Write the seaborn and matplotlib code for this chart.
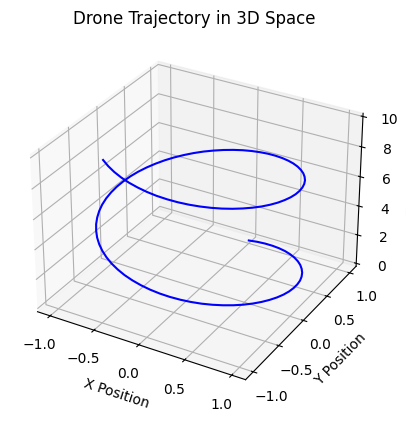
import matplotlib
matplotlib.use("Agg")
import matplotlib.pyplot as plt
import seaborn as sns

# values
x_pos = [0, .0998, .199, .296, .389, .479, .565, .644, .717, .783, .841, .891, .932, .964,
         .985, .997, .9996, .992, .974, .946, .909, .863, .808, .746, .675, .598, .516,
         .427, .335, .239, .141, .042, -.058, -.158, -.256, -.351, -.443, -.530, -.612,
         -.688, -.757, -.818, -.872, -.916, -.952, -.978, -.994, -.9999, -.996, -.982,
         -.959, -.926, -.883, -.832, -.773, -.706, -.631, -.551, -.465, -.374, -.279,
         -.182, -.083, .017, .117, .215, .312, .405, .494, .578, .657, .729, .794, .850,
         .899, .938, .968, .988, .999, .999, .989, .970, .941, .902, .855, .798, .734,
         .663, .585, .501, .412, .319, .223, .122, .025, -.075, -.175, -.273, -.366,
         -.458, -.544]
y_pos = [1, .995, .980, .955, .921, .878, .825, .765, .697, .622, .540, .454, .362, .267,
         .170, .071, -.029, -.129, -.227, -.323, -.416, -.505, -.589, -.666, -.737, -.801,
         -.857, -.904, -.942, -.971, -.990, -.999, -.998, -.987, -.967, -.936, -.897,
         -.848, -.791, -.726, -.654, -.575, -.490, -.401, -.307, -.211, -.112, -.012,
         .087, .187, .284, .378, .469, .554, .635, .709, .776, .835, .886, .927, .960,
         .983, .997, 1.0, .993, .977, .950, .914, .869, .816, .754, .684, .608, .526,
         .439, .347, .251, .153, .054, -.047, -.146, -.245, -.340, -.433, -.519, -.602,
         -.679, -.749, -.811, -.865, -.911, -.948, -.975, -.993, -1.0, -.997, -.985,
         -.962, -.931, -.889, -.839]
z_pos = [0, .1, .2, .3, .4, .5, .6, .7, .8, .9, 1, 1.1, 1.2, 1.3, 1.4, 1.5, 1.6, 1.7, 1.8,
         1.9, 2, 2.1, 2.2, 2.3, 2.4, 2.5, 2.6, 2.7, 2.8, 2.9, 3, 3.1, 3.2, 3.3, 3.4, 3.5,
         3.6, 3.7, 3.8, 3.9, 4, 4.1, 4.2, 4.3, 4.4, 4.5, 4.6, 4.7, 4.8, 4.9, 5, 5.1, 5.2,
         5.3, 5.4, 5.5, 5.6, 5.7, 5.8, 5.9, 6, 6.1, 6.2, 6.3, 6.4, 6.5, 6.6, 6.7, 6.8, 6.9,
         7, 7.1, 7.2, 7.3, 7.4, 7.5, 7.6, 7.7, 7.8, 7.9, 8, 8.1, 8.2, 8.3, 8.4, 8.5, 8.6,
         8.7, 8.8, 8.9, 9, 9.1, 9.2, 9.3, 9.4, 9.5, 9.6, 9.7, 9.8, 9.9, 10]

sns.reset_orig()

fig = plt.figure(figsize=(4.07, 4.21), dpi=100)
ax = fig.add_axes([0.0235, 0.0425, 0.91, 0.88], projection="3d")

# seaborn draws the line, then it gets its z values
sns.lineplot(x=x_pos, y=y_pos, sort=False, estimator=None, errorbar=None, color="blue", ax=ax)
ax.lines[0].set_data_3d(x_pos, y_pos, z_pos)
ax.auto_scale_xyz(x_pos, y_pos, z_pos)

ax.set_xlabel("X Position")
ax.set_ylabel("Y Position")
ax.set_zlabel("Z Position")
ax.set_title("Drone Trajectory in 3D Space")

fig.savefig("out.png", dpi=100)
